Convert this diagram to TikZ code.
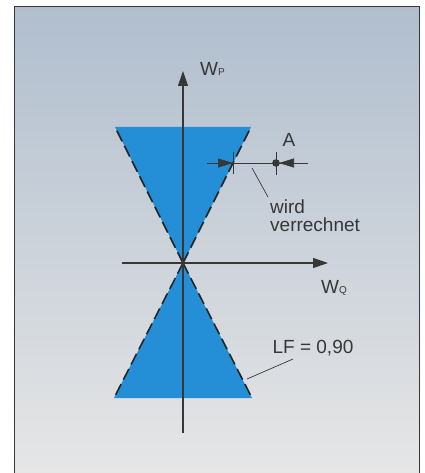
\documentclass[tikz,border=0pt]{standalone}
\usepackage{fontspec}
\setmainfont{Liberation Sans}
\usetikzlibrary{arrows.meta}
\definecolor{fillblue}{RGB}{36,143,214}
\definecolor{bgtop}{RGB}{176,190,206}
\definecolor{bgbottom}{RGB}{230,230,230}
\definecolor{ink}{RGB}{55,55,55}
\begin{document}
\begin{tikzpicture}[x=1pt,y=-1pt,
  every node/.style={inner sep=0pt, text=ink, font=\fontsize{19}{18}\selectfont},
  axis/.style={draw=ink, line width=1.2pt, -{Triangle[length=15pt,width=10pt]}},
  edgeline/.style={draw=black!85, line width=1.6pt, dash pattern=on 12pt off 5pt},
  leader/.style={draw=ink, line width=0.7pt},
  dimtip/.style={leader, -{Triangle[length=15pt,width=9pt]}}]
\useasboundingbox (0,0) rectangle (424,473);
\shade[top color=bgtop, bottom color=bgbottom] (14,7) rectangle (419,473);
\draw[ink, line width=1pt] (14,473) -- (14,7) -- (419,7) -- (419,473);
\coordinate (o) at (183,263);
\coordinate (ul) at (115,127);
\coordinate (ur) at (251,127);
\coordinate (ll) at (114,398);
\coordinate (lr) at (252,398);
\fill[fillblue] (ul) -- (ur) -- (o) -- cycle;
\fill[fillblue] (ll) -- (lr) -- (o) -- cycle;
\draw[edgeline] (o) -- (ul);
\draw[edgeline] (o) -- (ur);
\draw[edgeline] (o) -- (ll);
\draw[edgeline] (o) -- (lr);
\coordinate (xs) at (122,263);
\coordinate (xe) at (328,263);
\coordinate (ys) at (183,433);
\coordinate (ye) at (183,71);
\draw[axis] (xs) -- (xe);
\draw[axis] (ys) -- (ye);
\node[anchor=base west] (wp) at (200,76) {W{\fontsize{10}{10}\selectfont P}};
\node[anchor=base west] (wq) at (321,293) {W{\fontsize{10}{10}\selectfont Q}};
\coordinate (d1) at (207,163);
\coordinate (d2) at (233,163);
\coordinate (dot) at (276,163);
\coordinate (d4) at (279,163);
\coordinate (d3) at (308,163);
\draw[leader] (d1) -- (d3);
\draw[dimtip] (d1) -- (d2);
\draw[dimtip] (d3) -- (d4);
\draw[leader] ([yshift=11pt]d2) -- ([yshift=-11pt]d2);
\draw[leader] ([yshift=11pt]dot) -- ([yshift=-12pt]dot);
\fill[ink] (dot) circle (3.8);
\node (a) at (289,140) {A};
\node[align=left, anchor=north west] (wv) at (270,200) {wird\\verrechnet};
\coordinate (w1) at (252,168);
\coordinate (w2) at (268,197);
\draw[leader] (w1) -- (w2);
\node (lf) at (313,348) {LF = 0,90};
\coordinate (l1) at (293,359);
\coordinate (l2) at (247,379);
\draw[leader] (l1) -- (l2);
\end{tikzpicture}
\end{document}
